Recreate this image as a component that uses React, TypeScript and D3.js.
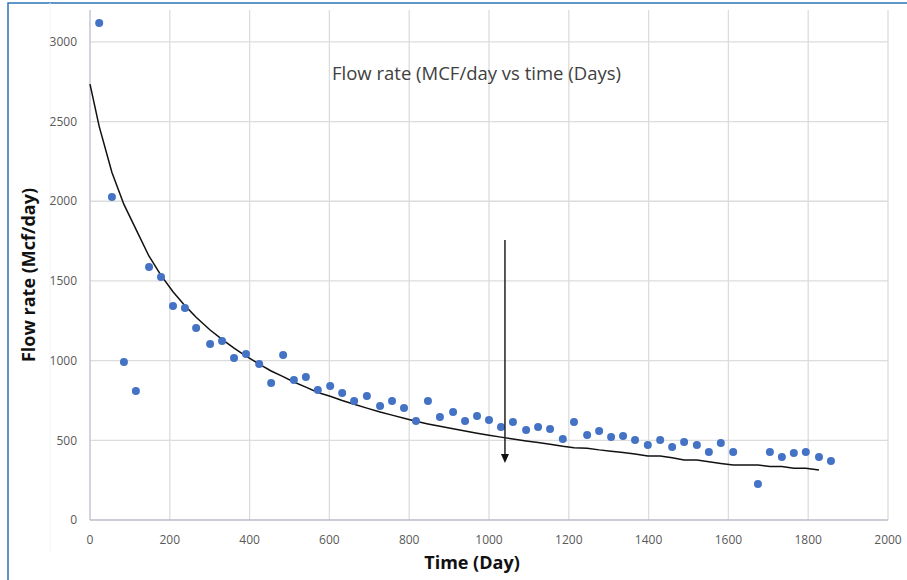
import React from 'react'
import * as d3 from 'd3'

// observed production (day, Mcf/day)
const days = [23, 55, 85, 115, 148, 178, 208, 238, 266, 301, 331, 361, 391, 424, 454, 484, 511, 541, 571, 602,
  632, 662, 694, 727, 757, 787, 817, 847, 877, 910, 940, 970, 1000, 1030, 1060, 1093, 1123, 1153, 1185, 1213,
  1246, 1276, 1306, 1336, 1366, 1398, 1429, 1459, 1489, 1521, 1551, 1581, 1612, 1674, 1704, 1734, 1764, 1794, 1827, 1857]
const rates = [3118, 2026, 991, 809, 1587, 1524, 1342, 1330, 1204, 1104, 1123, 1016, 1041, 979, 859, 1035, 878, 897, 816, 841,
  797, 747, 778, 715, 747, 703, 621, 747, 646, 678, 621, 652, 627, 583, 615, 565, 583, 571, 508, 615,
  533, 558, 521, 527, 502, 471, 502, 458, 489, 471, 427, 483, 427, 226, 427, 395, 420, 427, 395, 370]

// fitted decline curve
const fitDays = [0, 23, 55, 85, 115, 148, 178, 208, 238, 266, 301, 331, 361, 391, 424, 454, 484, 511, 541, 571, 602,
  632, 662, 694, 727, 757, 787, 817, 847, 877, 910, 940, 970, 1000, 1030, 1060, 1093, 1123, 1153, 1185, 1213,
  1246, 1276, 1306, 1336, 1366, 1398, 1429, 1459, 1489, 1521, 1551, 1581, 1612, 1674, 1704, 1734, 1764, 1794, 1827]
const fitRates = [2735, 2470, 2180, 1980, 1825, 1655, 1535, 1432, 1345, 1272, 1192, 1133, 1078, 1028, 978, 935, 900, 866, 834, 800, 776,
  750, 726, 702, 678, 658, 638, 619, 603, 588, 572, 558, 545, 532, 520, 508, 496, 486, 476, 463, 454,
  450, 440, 432, 424, 414, 401, 401, 390, 376, 376, 365, 355, 345, 345, 335, 335, 324, 324, 314]

const xTicks = [0, 200, 400, 600, 800, 1000, 1200, 1400, 1600, 1800, 2000]
const yTicks = [0, 500, 1000, 1500, 2000, 2500, 3000]

// annotation arrow (day, from rate, to rate)
const arrowDay = 1040
const arrowFrom = 1757
const arrowTo = 358

const title = 'Flow rate (MCF/day vs time (Days)'
const xLabel = 'Time (Day)'
const yLabel = 'Flow rate (Mcf/day)'

const W = 907
const H = 580
const font = '"Open Sans", "Noto Sans", sans-serif'

export default function App () {
  const x = d3.scaleLinear().domain([0, 2000]).range([90, 888])
  const y = d3.scaleLinear().domain([0, 3200]).range([520, 10])

  const line = d3.line<number>()
    .x((d, i) => x(fitDays[i]))
    .y(d => y(d))

  const ax = x(arrowDay)
  const ay0 = y(arrowFrom)
  const ay1 = y(arrowTo)

  return (
    <svg width={W} height={H} style={{ position: 'absolute', left: 0, top: 0, background: '#fff' }}>
      <rect x={8} y={3} width={W + 10} height={H + 10} fill='#fff' stroke='#2e75b6' strokeWidth={1.5} />
      <line x1={50} x2={50} y1={3} y2={552} stroke='#f4f4f4' strokeWidth={1} />

      {/* grid */}
      {xTicks.slice(1).map(t => (
        <line key={'gx' + t} x1={x(t)} x2={x(t)} y1={y(3200)} y2={y(0)} stroke='#dcdcdc' strokeWidth={1.3} />
      ))}
      {yTicks.slice(1).map(t => (
        <line key={'gy' + t} x1={x(0)} x2={x(2000)} y1={y(t)} y2={y(t)} stroke='#dcdcdc' strokeWidth={1.3} />
      ))}

      {/* axes */}
      <line x1={x(0)} x2={x(0)} y1={y(3200)} y2={y(0)} stroke='#c3c6d4' strokeWidth={1.5} />
      <line x1={x(0)} x2={x(2000)} y1={y(0)} y2={y(0)} stroke='#b9bcc8' strokeWidth={1.5} />

      {yTicks.map(t => (
        <text key={'yt' + t} x={77} y={y(t)} dy='0.35em' textAnchor='end' fontSize={12} fill='#595959' fontFamily={font}>{t}</text>
      ))}
      {xTicks.map(t => (
        <text key={'xt' + t} x={x(t)} y={540} dy='0.35em' textAnchor='middle' fontSize={12} fill='#595959' fontFamily={font}>{t}</text>
      ))}

      {/* fitted curve */}
      <path d={line(fitRates) || ''} fill='none' stroke='#111' strokeWidth={1.5} />

      {/* observed points */}
      {days.map((d, i) => (
        <circle key={'p' + i} cx={x(d)} cy={y(rates[i])} r={4} fill='#4472c4' />
      ))}

      {/* arrow */}
      <line x1={ax} x2={ax} y1={ay0} y2={ay1 - 7} stroke='#222' strokeWidth={1.5} />
      <path d={`M${ax - 4},${ay1 - 9}L${ax + 4},${ay1 - 9}L${ax},${ay1}Z`} fill='#111' />

      <text x={332} y={80} fontSize={18.5} fill='#404040' fontFamily={font}>{title}</text>
      <text x={472} y={569} textAnchor='middle' fontSize={18} fontWeight='bold' fill='#111' fontFamily={font}>{xLabel}</text>
      <text transform='translate(35,275) rotate(-90)' textAnchor='middle' fontSize={18} fontWeight='bold' fill='#111' fontFamily={font}>{yLabel}</text>
    </svg>
  )
}
